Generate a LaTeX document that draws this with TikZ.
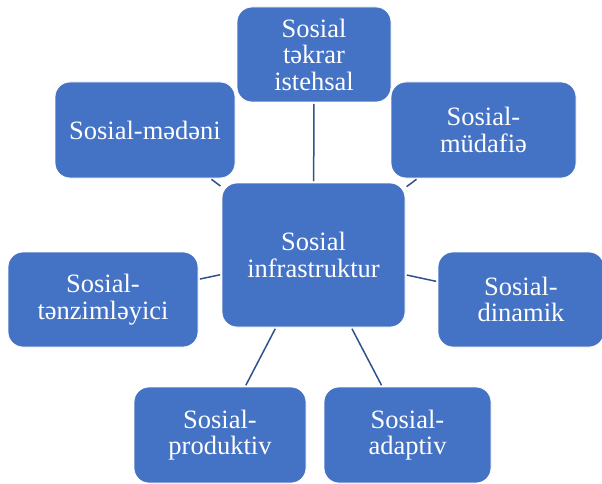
\documentclass[tikz,border=0pt]{standalone}
\usepackage{fontspec}
\setmainfont{Liberation Serif}
\definecolor{boxblue}{HTML}{4472C4}
\definecolor{linkblue}{HTML}{2F528F}
\tikzset{
  box/.style={draw=white,line width=0.8pt,fill=boxblue,text=white,rounded corners=15pt,inner sep=0pt,align=center,font=\fontsize{26.5}{26.5}\selectfont},
  link/.style={draw=linkblue,line width=1.5pt,shorten <=1.5pt,shorten >=1.5pt}
}
\begin{document}
\begin{tikzpicture}[x=1pt,y=-1pt]
\useasboundingbox(0,0)rectangle(602,484);
\node[box,minimum width=183pt,minimum height=144pt](infra)at(313.5,255){Sosial\\infrastruktur};
\node[box,minimum width=154pt,minimum height=95pt](istehsal)at(314,54.5){Sosial\\təkrar\\istehsal};
\node[box,minimum width=180pt,minimum height=96pt](medeni)at(145,130){Sosial-mədəni};
\node[box,minimum width=185pt,minimum height=96pt](mudafie)at(483.5,130){Sosial-\\müdafiə};
\node[box,minimum width=190pt,minimum height=95pt](tenzim)at(103,299.5){Sosial-\\tənzimləyici};
\node[box,minimum width=166pt,minimum height=95pt](dinamik)at(521,299.5){Sosial-\\dinamik};
\node[box,minimum width=172pt,minimum height=96pt](produktiv)at(220,435){Sosial-\\produktiv};
\node[box,minimum width=167pt,minimum height=96pt](adaptiv)at(407.5,435){Sosial-\\adaptiv};
\foreach\n in{istehsal,medeni,mudafie,tenzim,dinamik,produktiv,adaptiv}\draw[link](infra)--(\n);
\end{tikzpicture}
\end{document}
